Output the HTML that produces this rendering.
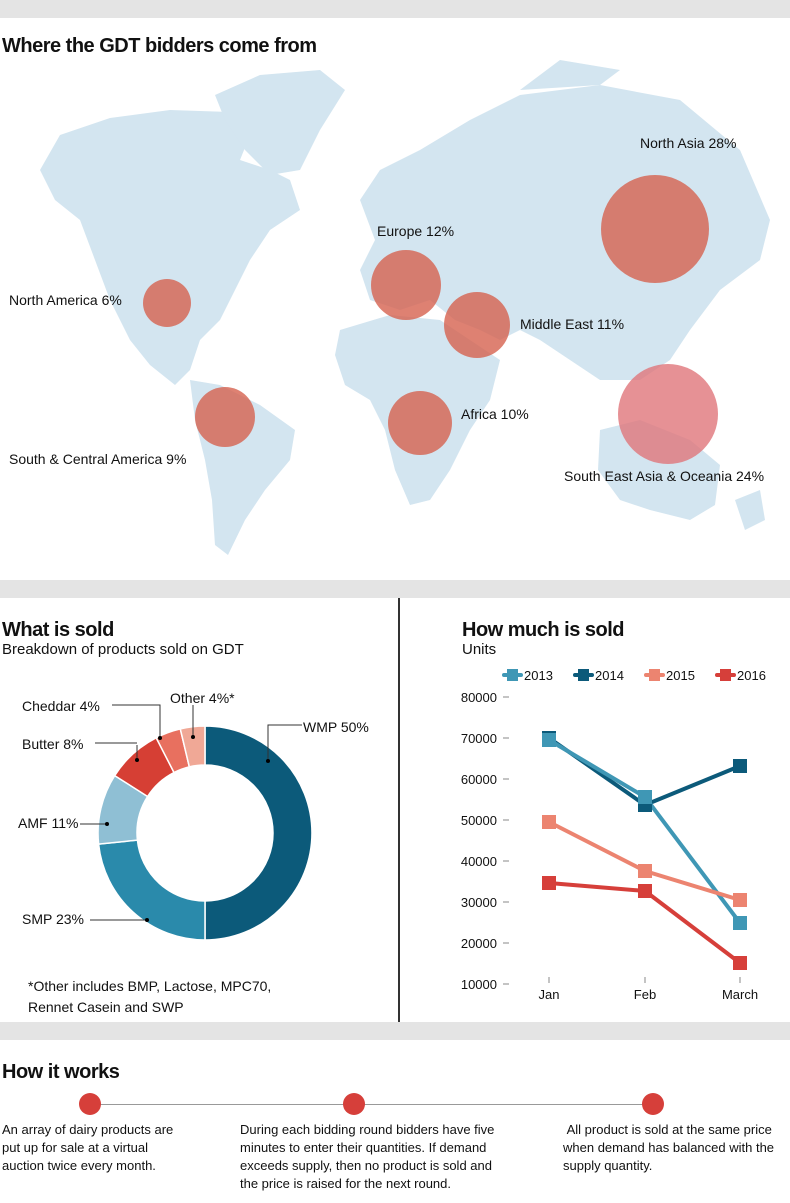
<!DOCTYPE html>
<html><head><meta charset="utf-8"><style>
body{margin:0;width:790px;height:1203px;background:#fff;font-family:"Liberation Sans",sans-serif;position:relative;overflow:hidden;color:#111}
.band{position:absolute;left:0;width:790px;background:#e4e4e4}
.t{position:absolute;white-space:nowrap}
h2{position:absolute;margin:0;font-size:20px;font-weight:bold;letter-spacing:-0.5px}
.lab{position:absolute;font-size:14px;white-space:nowrap}
.p{position:absolute;font-size:13px;line-height:18px}
</style></head><body>
<div class="band" style="top:0;height:18px"></div>
<div class="band" style="top:580px;height:18px"></div>
<div class="band" style="top:1022px;height:18px"></div>
<div style="position:absolute;left:398px;top:598px;width:2px;height:424px;background:#333"></div>
<h2 style="left:2px;top:35px">Where the GDT bidders come from</h2>
<svg style="position:absolute;left:0;top:0" width="790" height="580">
<g fill="#d3e5f0">
<path d="M60,135 L110,118 L170,110 L230,112 L250,135 L240,160 L270,170 L290,180 L300,210 L270,230 L250,260 L235,290 L220,320 L200,340 L190,370 L175,385 L150,365 L130,340 L110,300 L95,260 L80,220 L55,200 L40,170 Z"/>
<path d="M215,95 L260,75 L320,70 L345,90 L320,130 L300,170 L270,175 L245,150 L225,120 Z"/>
<path d="M190,380 L220,385 L260,405 L295,430 L290,460 L265,490 L245,520 L228,555 L215,545 L212,500 L205,460 L195,420 Z"/>
<path d="M360,200 L380,170 L420,150 L470,120 L520,95 L600,85 L680,100 L740,150 L770,220 L760,260 L720,290 L690,330 L670,360 L640,380 L600,380 L570,360 L540,340 L520,330 L500,340 L480,330 L455,320 L430,300 L400,310 L370,300 L360,270 L375,240 Z"/>
<path d="M340,330 L390,315 L440,320 L470,340 L500,360 L490,400 L470,430 L450,470 L430,500 L410,505 L395,470 L385,430 L370,400 L345,385 L335,355 Z"/>
<path d="M600,430 L640,420 L690,440 L720,465 L715,505 L690,520 L650,510 L620,500 L598,470 Z"/>
<path d="M520,90 L560,60 L620,70 L600,85 Z"/>
<path d="M735,500 L760,490 L765,520 L745,530 Z"/>
</g>
<g fill="#d6614f" fill-opacity="0.8">
<circle cx="167" cy="303" r="24"/>
<circle cx="225" cy="417" r="30"/>
<circle cx="406" cy="285" r="35"/>
<circle cx="477" cy="325" r="33"/>
<circle cx="420" cy="423" r="32"/>
<circle cx="655" cy="229" r="54"/>
</g>
<circle cx="668" cy="414" r="50" fill="#e0757a" fill-opacity="0.8"/>
</svg>
<div class="lab" style="left:640px;top:135px">North Asia 28%</div>
<div class="lab" style="left:377px;top:223px">Europe 12%</div>
<div class="lab" style="left:9px;top:292px">North America 6%</div>
<div class="lab" style="left:520px;top:316px">Middle East 11%</div>
<div class="lab" style="left:461px;top:406px">Africa 10%</div>
<div class="lab" style="left:9px;top:451px">South &amp; Central America 9%</div>
<div class="lab" style="left:564px;top:468px">South East Asia &amp; Oceania 24%</div>

<h2 style="left:2px;top:619px">What is sold</h2>
<div class="t" style="left:2px;top:641px;font-size:15px">Breakdown of products sold on GDT</div>
<svg style="position:absolute;left:0;top:600px" width="398" height="420">
<g transform="translate(205,233)" stroke="#fff" stroke-width="1.5">
<path d="M0,-107 A107,107 0 0 1 0,107 L0,68 A68,68 0 0 0 0,-68 Z" fill="#0c5a7a"/>
<path d="M0,107 A107,107 0 0 1 -106.4,11.1 L-67.6,7.1 A68,68 0 0 0 0,68 Z" fill="#2a8aab"/>
<path d="M-106.4,11.1 A107,107 0 0 1 -90.3,-57.4 L-57.4,-36.5 A68,68 0 0 0 -67.6,7.1 Z" fill="#8fbfd4"/>
<path d="M-90.3,-57.4 A107,107 0 0 1 -48.8,-95.2 L-31,-60.5 A68,68 0 0 0 -57.4,-36.5 Z" fill="#d63f34"/>
<path d="M-48.8,-95.2 A107,107 0 0 1 -24.7,-104.1 L-15.7,-66.2 A68,68 0 0 0 -31,-60.5 Z" fill="#e8705f"/>
<path d="M-24.7,-104.1 A107,107 0 0 1 0,-107 L0,-68 A68,68 0 0 0 -15.7,-66.2 Z" fill="#f0a896"/>
</g>
<g stroke="#333" stroke-width="1" fill="none">
<polyline points="268,160 268,125 302,125"/>
<polyline points="193,138 193,105"/>
<polyline points="112,105 160,105 160,138"/>
<polyline points="137,145 137,160"/>
<polyline points="95,143 137,143"/>
<polyline points="80,224 107,224"/>
<polyline points="90,320 147,320"/>
</g>
<g fill="#000"><circle cx="268" cy="161" r="2"/><circle cx="193" cy="137" r="2"/><circle cx="160" cy="138" r="2"/><circle cx="137" cy="160" r="2"/><circle cx="107" cy="224" r="2"/><circle cx="147" cy="320" r="2"/></g>
</svg>
<div class="lab" style="left:303px;top:719px">WMP 50%</div>
<div class="lab" style="left:170px;top:690px">Other 4%*</div>
<div class="lab" style="left:22px;top:698px">Cheddar 4%</div>
<div class="lab" style="left:22px;top:736px">Butter 8%</div>
<div class="lab" style="left:18px;top:815px">AMF 11%</div>
<div class="lab" style="left:22px;top:911px">SMP 23%</div>
<div class="p" style="left:28px;top:976px;font-size:14px;line-height:21px">*Other includes BMP, Lactose, MPC70,<br>Rennet Casein and SWP</div>

<h2 style="left:462px;top:619px">How much is sold</h2>
<div class="t" style="left:462px;top:641px;font-size:15px">Units</div>
<svg style="position:absolute;left:400px;top:600px" width="390" height="420">
<g font-size="13" font-family="Liberation Sans,sans-serif" fill="#111">
<g stroke-width="4" stroke-linecap="round"><line x1="104" y1="75" x2="121" y2="75" stroke="#3f97b5"/><line x1="175" y1="75" x2="192" y2="75" stroke="#0c5a7a"/><line x1="246" y1="75" x2="263" y2="75" stroke="#ec8470"/><line x1="317" y1="75" x2="334" y2="75" stroke="#d63f3a"/></g>
<rect x="107" y="69" width="11" height="12" fill="#3f97b5"/><rect x="178" y="69" width="11" height="12" fill="#0c5a7a"/><rect x="249" y="69" width="11" height="12" fill="#ec8470"/><rect x="320" y="69" width="11" height="12" fill="#d63f3a"/>
<text x="124" y="80">2013</text><text x="195" y="80">2014</text><text x="266" y="80">2015</text><text x="337" y="80">2016</text>
<g text-anchor="end">
<text x="97" y="102">80000</text><text x="97" y="143">70000</text><text x="97" y="184">60000</text><text x="97" y="225">50000</text><text x="97" y="266">40000</text><text x="97" y="307">30000</text><text x="97" y="348">20000</text><text x="97" y="389">10000</text>
</g>
<g stroke="#888" stroke-width="1"><line x1="103" y1="97" x2="109" y2="97"/><line x1="103" y1="138" x2="109" y2="138"/><line x1="103" y1="179" x2="109" y2="179"/><line x1="103" y1="220" x2="109" y2="220"/><line x1="103" y1="261" x2="109" y2="261"/><line x1="103" y1="302" x2="109" y2="302"/><line x1="103" y1="343" x2="109" y2="343"/><line x1="103" y1="384" x2="109" y2="384"/>
<line x1="149" y1="377" x2="149" y2="383"/><line x1="245" y1="377" x2="245" y2="383"/><line x1="340" y1="377" x2="340" y2="383"/></g>
<g text-anchor="middle"><text x="149" y="399">Jan</text><text x="245" y="399">Feb</text><text x="340" y="399">March</text></g>
</g>
<g fill="none" stroke-width="4">
<polyline points="149,138 245,205 340,166" stroke="#0c5a7a"/>
<polyline points="149,140 245,197 340,323" stroke="#3f97b5"/>
<polyline points="149,222 245,271 340,300" stroke="#ec8470"/>
<polyline points="149,283 245,291 340,363" stroke="#d63f3a"/>
</g>
<g>
<rect x="142" y="131" width="14" height="14" fill="#0c5a7a"/><rect x="238" y="198" width="14" height="14" fill="#0c5a7a"/><rect x="333" y="159" width="14" height="14" fill="#0c5a7a"/>
<rect x="142" y="133" width="14" height="14" fill="#3f97b5"/><rect x="238" y="190" width="14" height="14" fill="#3f97b5"/><rect x="333" y="316" width="14" height="14" fill="#3f97b5"/>
<rect x="142" y="215" width="14" height="14" fill="#ec8470"/><rect x="238" y="264" width="14" height="14" fill="#ec8470"/><rect x="333" y="293" width="14" height="14" fill="#ec8470"/>
<rect x="142" y="276" width="14" height="14" fill="#d63f3a"/><rect x="238" y="284" width="14" height="14" fill="#d63f3a"/><rect x="333" y="356" width="14" height="14" fill="#d63f3a"/>
</g>
</svg>

<h2 style="left:2px;top:1061px">How it works</h2>
<div style="position:absolute;left:90px;top:1104px;width:563px;height:1px;background:#999"></div>
<div style="position:absolute;left:79px;top:1093px;width:22px;height:22px;border-radius:50%;background:#d63f3a"></div>
<div style="position:absolute;left:343px;top:1093px;width:22px;height:22px;border-radius:50%;background:#d63f3a"></div>
<div style="position:absolute;left:642px;top:1093px;width:22px;height:22px;border-radius:50%;background:#d63f3a"></div>
<div class="p" style="left:2px;top:1121px">An array of dairy products are<br>put up for sale at a virtual<br>auction twice every month.</div>
<div class="p" style="left:240px;top:1121px">During each bidding round bidders have five<br>minutes to enter their quantities. If demand<br>exceeds supply, then no product is sold and<br>the price is raised for the next round.</div>
<div class="p" style="left:563px;top:1121px">&nbsp;All product is sold at the same price<br>when demand has balanced with the<br>supply quantity.</div>
</body></html>
